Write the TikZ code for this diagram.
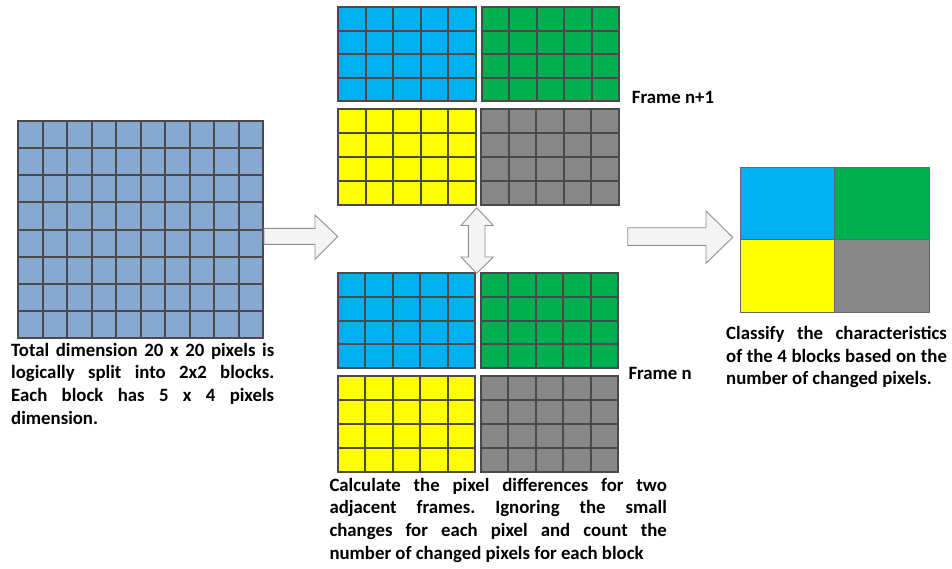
\documentclass[tikz,border=0pt]{standalone}
\usepackage{fontspec}
\setmainfont{Carlito}
\frenchspacing

\definecolor{steel}{HTML}{85A9D1}
\definecolor{cyanb}{HTML}{00B0F0}
\definecolor{greenb}{HTML}{00B050}
\definecolor{yellowb}{HTML}{FFFF00}
\definecolor{grayb}{HTML}{878787}
\definecolor{gridc}{HTML}{4A4A4A}
\definecolor{quadc}{HTML}{666666}
\definecolor{arrowc}{HTML}{8F8F8F}
\definecolor{arrowfill}{HTML}{F4F4F4}

\tikzset{
  gridline/.style={draw=gridc, line width=2pt},
  blockarrow/.style={draw=arrowc, fill=arrowfill, line width=0.9pt, line join=miter},
  quadcell/.style={draw=quadc, line width=1.2pt, inner sep=0pt, anchor=north west},
  caption/.style={anchor=north west, inner sep=0pt, align=justify,
    font=\fontsize{18.8}{22.7}\selectfont\bfseries},
  framelabel/.style={anchor=base west, inner sep=0pt,
    font=\fontsize{18.8}{22.7}\selectfont\bfseries},
}

% \pixgrid{name}{x1}{y1}{x2}{y2}{columns}{rows}{fill colour}
% grid lines are snapped to whole units so that they stay crisp
\newcommand\pixgrid[8]{%
  \node[inner sep=0pt, outer sep=0pt, anchor=north west, fill=#8,
        minimum width={(#4-#2)*1pt}, minimum height={(#5-#3)*1pt}] (#1) at (#2,#3) {};
  \pgfmathsetmacro\gdx{(#4-#2)/#6}%
  \pgfmathsetmacro\gdy{(#5-#3)/#7}%
  \pgfmathtruncatemacro\gnc{#6-1}%
  \pgfmathtruncatemacro\gnr{#7-1}%
  \foreach \i in {1,...,\gnc}{%
    \pgfmathsetmacro\gx{round(#2+\i*\gdx)}%
    \draw[gridline] (\gx,#3) -- (\gx,#5);}%
  \foreach \j in {1,...,\gnr}{%
    \pgfmathsetmacro\gy{round(#3+\j*\gdy)}%
    \draw[gridline] (#2,\gy) -- (#4,\gy);}%
  \draw[gridline] (#2,#3) rectangle (#4,#5);%
}

\begin{document}
\begin{tikzpicture}[x=1pt, y=-1pt]
  \useasboundingbox (0,0) rectangle (952,568);
  \fill[white] (0,0) rectangle (952,568);

  % whole image: 10 x 8 cells
  \pixgrid{image}{18}{121}{263}{338}{10}{8}{steel}

  % frame n+1
  \pixgrid{fa1}{338}{7}{476}{101}{5}{4}{cyanb}
  \pixgrid{fa2}{482}{7}{619}{101}{5}{4}{greenb}
  \pixgrid{fa3}{338}{109}{476}{205}{5}{4}{yellowb}
  \pixgrid{fa4}{481}{109}{619}{205}{5}{4}{grayb}

  % frame n
  \pixgrid{fb1}{338}{273}{475}{368}{5}{4}{cyanb}
  \pixgrid{fb2}{481}{273}{618}{368}{5}{4}{greenb}
  \pixgrid{fb3}{338}{376}{475}{472}{5}{4}{yellowb}
  \pixgrid{fb4}{481}{376}{618}{472}{5}{4}{grayb}

  % classified 2x2 blocks
  \node[quadcell, fill=cyanb,   minimum width=94pt, minimum height=72pt] (q1) at (740,167) {};
  \node[quadcell, fill=greenb,  minimum width=95pt, minimum height=72pt] (q2) at (834,167) {};
  \node[quadcell, fill=yellowb, minimum width=94pt, minimum height=73pt] (q3) at (740,239) {};
  \node[quadcell, fill=grayb,   minimum width=95pt, minimum height=73pt] (q4) at (834,239) {};

  % block arrows
  \draw[blockarrow] (264,228.3) -- (315,228.3) -- (315,215) -- (337.7,236.5)
    -- (315,259.3) -- (315,244.3) -- (264,244.3) -- cycle;
  \draw[blockarrow] (627.7,227.7) -- (706,227.7) -- (706,211) -- (732.7,237.3)
    -- (706,263.3) -- (706,245.3) -- (627.7,245.3) -- cycle;
  \draw[blockarrow] (476.7,207.7) -- (493.3,225.5) -- (485,225.5) -- (485,257)
    -- (493.3,257) -- (476.7,273.3) -- (461,257) -- (468.3,257) -- (468.3,225.5)
    -- (461,225.5) -- cycle;

  % labels
  \node[framelabel] (lab1) at (631.7,103) {Frame n+1};
  \node[framelabel] (lab2) at (628.3,379.8) {Frame n};

  \node[caption, text width=263pt] (t1) at (11,340.1)
    {\strut Total dimension 20 x 20 pixels is\linebreak
     logically split into 2x2 blocks.\linebreak
     Each block has 5 x 4 pixels\linebreak
     dimension.};
  \node[caption, text width=337.4pt] (t2) at (329.3,475.1)
    {\strut Calculate the pixel differences for two\linebreak
     adjacent frames. Ignoring the small\linebreak
     changes for each pixel and count the\linebreak
     number of changed pixels for each block};
  \node[caption, text width=220.7pt] (t3) at (726,323.4)
    {\strut Classify the characteristics\linebreak
     of the 4 blocks based on the\linebreak
     number of changed pixels.};
\end{tikzpicture}
\end{document}
